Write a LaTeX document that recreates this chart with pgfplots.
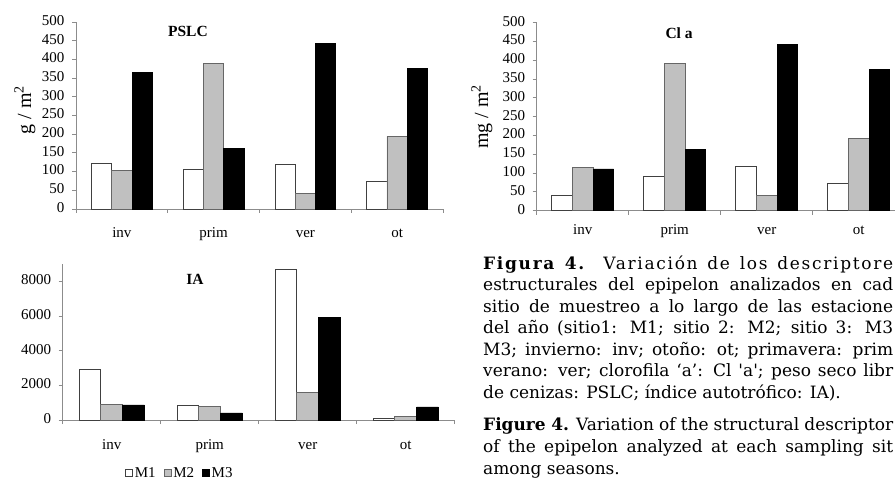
\documentclass[border=0pt]{standalone}
\usepackage{fontspec}
\setmainfont{Liberation Serif}
\newfontfamily\capfont{DejaVu Serif}
\usepackage{pgfplots}
\pgfplotsset{compat=1.18}

\definecolor{silverbar}{HTML}{C0C0C0}
\definecolor{axisgray}{HTML}{8C8C8C}

\pgfplotsset{
  chart/.style={
    scale only axis,
    axis lines=left,
    axis line style={-, draw=axisgray, line width=0.8bp},
    tick align=outside,
    major tick length=4bp,
    tick style={draw=axisgray, line width=0.8bp},
    xmin=-0.5, xmax=3.5, ymin=0,
    xtick={-0.5,0.5,1.5,2.5,3.5},
    xticklabels={},
    extra x ticks={0,1,2,3},
    extra x tick labels={inv,prim,ver,ot},
    extra x tick style={major tick length=0pt},
    typeset ticklabels with strut,
    xticklabel style={font=\fontsize{15bp}{17bp}\selectfont, yshift=-13bp},
    yticklabel style={font=\fontsize{15bp}{17bp}\selectfont, xshift=-4bp},
    ylabel style={font=\fontsize{20bp}{22bp}\selectfont, anchor=center},
    /pgf/number format/assume math mode=true,
    /pgf/number format/1000 sep={},
    scaled y ticks=false,
    ybar=0pt,
    clip=false,
  },
  m1/.style={fill=white, draw=black!75, line width=0.8bp},
  m2/.style={fill=silverbar, draw=black!60, line width=0.8bp},
  m3/.style={fill=black, draw=black, line width=0.8bp},
}

\begin{document}
\begin{tikzpicture}
\path[use as bounding box] (0,0) rectangle (895bp,486bp);
\clip (0,0) rectangle (895bp,486bp);

% PSLC
\begin{axis}[chart,
  at={(76bp,277bp)}, anchor=south west,
  width=367bp, height=187bp,
  ymax=500, ytick={0,50,...,500},
  bar width=20.3bp,
  ylabel={g / m\textsuperscript{2}},
  ylabel style={at={(rel axis cs:-0.139,0.53)}},
]
\addplot[m1] coordinates {(0,121) (1,106) (2,119) (3,73)};
\addplot[m2] coordinates {(0,103) (1,390) (2,42) (3,194)};
\addplot[m3] coordinates {(0,366) (1,163) (2,442) (3,376)};
\node[font=\bfseries\fontsize{15.5bp}{17bp}\selectfont] at (rel axis cs:0.305,0.947) {PSLC};
\end{axis}

% Cl a
\begin{axis}[chart,
  at={(536.7bp,275.3bp)}, anchor=south west,
  width=368bp, height=188bp,
  ymax=500, ytick={0,50,...,500},
  bar width=20.6bp,
  xticklabel style={yshift=5bp},
  ylabel={mg / m\textsuperscript{2}},
  ylabel style={at={(rel axis cs:-0.149,0.50)}},
]
\addplot[m1] coordinates {(0,41) (1,90) (2,119) (3,72)};
\addplot[m2] coordinates {(0,115) (1,391) (2,40) (3,192)};
\addplot[m3] coordinates {(0,111) (1,162) (2,443) (3,376)};
\node[font=\bfseries\fontsize{15.5bp}{17bp}\selectfont] at (rel axis cs:0.387,0.945) {Cl a};
\end{axis}

% IA
\begin{axis}[chart,
  at={(62.7bp,66bp)}, anchor=south west,
  width=392bp, height=156bp,
  ymax=9000, ytick={0,2000,...,8000},
  bar width=21.8bp,
  xticklabel style={yshift=-1bp},
  legend columns=3,
  legend style={at={(rel axis cs:0.299,-0.34)}, anchor=center, draw=none,
    font=\fontsize{15bp}{17bp}\selectfont,
    /tikz/every even column/.append style={column sep=6bp}},
  legend image code/.code={\draw[#1, line width=0.6bp] (0bp,-3.5bp) rectangle (7bp,3.5bp);},
]
\addplot[m1] coordinates {(0,2911) (1,848) (2,8713) (3,96)};
\addplot[m2] coordinates {(0,906) (1,790) (2,1600) (3,212)};
\addplot[m3] coordinates {(0,867) (1,405) (2,5899) (3,752)};
\legend{M1,M2,M3}
\node[font=\bfseries\fontsize{15.5bp}{17bp}\selectfont] at (rel axis cs:0.3375,0.904) {IA};
\end{axis}

% caption (cut at the right edge as in the reference)
\begin{scope}[every node/.style={anchor=base west, inner sep=0pt, font=\capfont\fontsize{17bp}{21.5bp}\selectfont}]
\node at (483bp,216.5bp) {\addfontfeatures{LetterSpace=10}\makebox[410bp][s]{\textbf{Figura 4.} Variación de los descriptore}};
\node at (483bp,195bp) {\makebox[410bp][s]{estructurales del epipelon analizados en cad}};
\node at (483bp,173.5bp) {\makebox[410bp][s]{sitio de muestreo a lo largo de las estacione}};
\node at (483bp,152bp) {\makebox[410bp][s]{del año (sitio1: M1; sitio 2: M2; sitio 3: M3}};
\node at (483bp,130.5bp) {\makebox[410bp][s]{M3; invierno: inv; otoño: ot; primavera: prim}};
\node at (483bp,109bp) {\makebox[410bp][s]{verano: ver; clorofila ‘a’: Cl \textquotesingle a\textquotesingle; peso seco libr}};
\node at (483bp,87.5bp) {de cenizas: PSLC; índice autotrófico: IA).};
\node at (483bp,55bp) {\makebox[410bp][s]{\textbf{Figure 4.} Variation of the structural descriptor}};
\node at (483bp,33.5bp) {\makebox[410bp][s]{of the epipelon analyzed at each sampling sit}};
\node at (483bp,12bp) {among seasons.};
\end{scope}
\end{tikzpicture}
\end{document}
